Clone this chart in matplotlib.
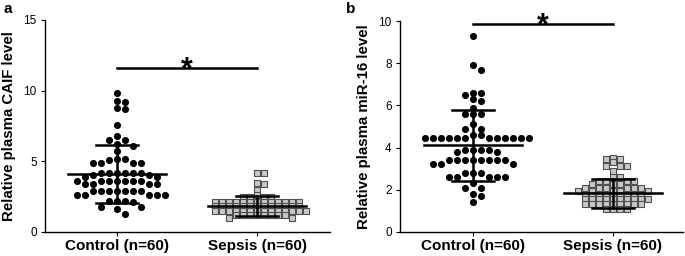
import numpy as np
import matplotlib
matplotlib.use("Agg")
import matplotlib.pyplot as plt

plt.rcParams['font.family'] = ['Liberation Sans', 'DejaVu Sans']

groups = ["Control (n=60)", "Sepsis (n=60)"]

# panel a: relative plasma CAIF level
caif_control = [9.8, 9.3, 9.2, 8.8, 8.7, 7.6, 6.8, 6.5, 6.5, 6.2, 6.1,
                5.7, 5.2, 5.2, 5.1, 4.9, 4.9, 4.9, 4.9, 3.9, 3.9,
                4.2, 4.2, 4.2, 4.2, 4.2, 4.2, 4.0, 4.0,
                3.6, 3.6, 3.6, 3.6, 3.6, 3.6, 3.6, 3.4, 3.4, 3.4, 3.4,
                2.9, 2.9, 2.9, 2.9, 2.9, 2.9, 2.9, 2.6, 2.6, 2.6, 2.6, 2.6,
                2.2, 2.2, 2.2, 2.1, 1.8, 1.8, 1.6, 1.3]
caif_sepsis = [4.2, 4.2, 3.5, 3.4, 3.0, 2.6,
               2.47, 2.47, 2.47, 2.47,
               2.15, 2.15, 2.15, 2.15, 2.15, 2.15, 2.15, 2.15, 2.15, 2.15, 2.15, 2.15, 2.15,
               1.85, 1.85, 1.85, 1.85, 1.85, 1.85, 1.85, 1.85, 1.85, 1.85, 1.85, 1.85, 1.85,
               1.5, 1.5, 1.5, 1.5, 1.5, 1.5, 1.5, 1.5, 1.5, 1.5, 1.5, 1.5, 1.5, 1.5,
               1.2, 1.2, 1.2, 1.2, 1.2, 1.2, 1.2, 1.2, 1.0, 1.0]
caif_mean = [4.11, 1.81]
caif_sd = [2.06, 0.71]

# panel b: relative plasma miR-16 level
mir_control = [9.3, 7.9, 7.7, 6.6, 6.6, 6.5, 6.3, 6.2, 5.9, 5.6, 5.6, 5.6,
               5.1, 4.9, 4.9, 4.6, 4.6,
               4.45, 4.45, 4.45, 4.45, 4.45, 4.45, 4.45, 4.45, 4.45, 4.45, 4.45, 4.45,
               3.9, 3.9, 3.9, 3.9, 3.8, 3.8,
               3.4, 3.4, 3.4, 3.4, 3.4, 3.4, 3.4, 3.4, 3.2, 3.2, 3.2,
               2.8, 2.8, 2.8, 2.6, 2.6, 2.6, 2.6, 2.6,
               2.3, 2.1, 2.1, 1.8, 1.7, 1.4]
mir_sepsis = [3.5, 3.45, 3.45, 3.3, 3.15, 3.15, 3.15, 2.9,
              2.59, 2.59, 2.42, 2.42, 2.42, 2.42, 2.26, 2.26, 2.26,
              2.1, 2.1, 2.1, 2.1, 2.1, 2.1,
              1.96, 1.96, 1.96, 1.96, 1.96,
              1.75, 1.75, 1.75, 1.75, 1.75, 1.75, 1.75, 1.75, 1.75,
              1.55, 1.55, 1.55, 1.55, 1.55, 1.55, 1.55, 1.55, 1.55, 1.55,
              1.33, 1.33, 1.33, 1.33, 1.33, 1.33, 1.33, 1.33, 1.33,
              1.07, 1.07, 1.07, 1.07]
mir_mean = [4.11, 1.84]
mir_sd = [1.67, 0.69]


def swarm_x(ax, vals, center, w, h):
    # place each point as close to the centre line as it can go without
    # sitting on top of one already placed (box check in pixels)
    p0 = ax.transData.transform((0, 0))
    p1 = ax.transData.transform((1, 1))
    sx, sy = p1[0] - p0[0], p1[1] - p0[1]
    vals = np.asarray(vals, dtype=float)
    order = np.argsort(-vals)
    placed = []
    xs = np.zeros(len(vals))
    steps = [0.0]
    for k in range(1, 300):
        steps += [k * 0.5, -k * 0.5]
    for i in order:
        ypx = vals[i] * sy
        for off in steps:
            if all(abs(px - off) >= w or abs(py - ypx) >= h for px, py in placed):
                break
        placed.append((off, ypx))
        xs[i] = center + off / sx
    return xs


def panel(ax, ctrl, seps, means, sds, ymax, yticks, ylabel, sig_y, xlim):
    ax.set_xlim(*xlim)
    ax.set_ylim(0, ymax)
    xc = swarm_x(ax, ctrl, 0, 7.6, 6.0)
    ax.scatter(xc, ctrl, s=26, c='black', marker='o', zorder=3, linewidths=0)
    xs = swarm_x(ax, seps, 1, 7.0, 3.8)
    ax.scatter(xs, seps, s=22, c='#c8c8c8', marker='s', edgecolors='#505050',
               linewidths=0.8, zorder=3)
    for i in range(2):
        m, sd = means[i], sds[i]
        ax.plot([i - 0.35, i + 0.35], [m, m], color='black', lw=1.8, zorder=4)
        ax.plot([i - 0.15, i + 0.15], [m + sd, m + sd], color='black', lw=1.8, zorder=4)
        ax.plot([i - 0.15, i + 0.15], [m - sd, m - sd], color='black', lw=1.8, zorder=4)
        ax.plot([i, i], [m - sd, m + sd], color='black', lw=1.8, zorder=4)
    ax.plot([0, 1], [sig_y, sig_y], color='black', lw=1.8)
    ax.annotate('*', xy=(0.5, sig_y), xytext=(0, -7), textcoords='offset points',
                ha='center', va='baseline', fontsize=22, fontweight='bold')
    ax.set_yticks(yticks)
    ax.set_xticks([0, 1])
    ax.set_xticklabels(groups, fontsize=11, fontweight='bold')
    ax.set_ylabel(ylabel, fontsize=10.8, fontweight='bold', labelpad=5)
    ax.tick_params(axis='y', labelsize=8.5, length=3, width=0.8, pad=3)
    ax.tick_params(axis='x', length=3, width=0.8, pad=2)
    for s in ['top', 'right']:
        ax.spines[s].set_visible(False)
    for s in ['left', 'bottom']:
        ax.spines[s].set_linewidth(1.0)


fig = plt.figure(figsize=(6.85, 2.56), dpi=100)
ax1 = fig.add_axes([45 / 685, 24 / 256, 285 / 685, 212 / 256])
ax2 = fig.add_axes([400 / 685, 24 / 256, 283 / 685, 211 / 256])

panel(ax1, caif_control, caif_sepsis, caif_mean, caif_sd, 15, [0, 5, 10, 15],
      'Relative plasma CAIF level', 11.6, (-0.514, 1.52))
panel(ax2, mir_control, mir_sepsis, mir_mean, mir_sd, 10, [0, 2, 4, 6, 8, 10],
      'Relative plasma miR-16 level', 9.84, (-0.52, 1.50))

fig.text(3 / 685, 1 - 9 / 256, 'a', fontsize=11, fontweight='bold', va='center')
fig.text(346 / 685, 1 - 9 / 256, 'b', fontsize=11, fontweight='bold', va='center')

fig.savefig('out.png', dpi=100)
